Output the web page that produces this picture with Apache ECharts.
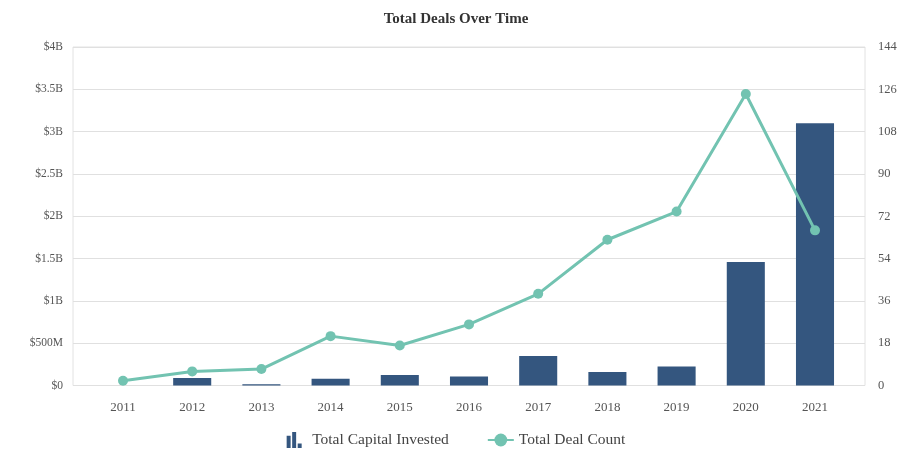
<!DOCTYPE html>
<html>
<head>
<meta charset="utf-8">
<script src="https://cdn.jsdelivr.net/npm/echarts@6/dist/echarts.min.js"></script>
<style>
  html, body { margin: 0; padding: 0; background: #fff; }
  #chart { width: 912px; height: 458px; }
</style>
</head>
<body>
<div id="chart"></div>
<script>
// Years on the category axis
const years = ['2011', '2012', '2013', '2014', '2015', '2016', '2017', '2018', '2019', '2020', '2021'];
// Total capital invested per year, in dollars
const capitalInvested = [0, 90e6, 15e6, 80e6, 125e6, 105e6, 350e6, 160e6, 225e6, 1.46e9, 3.1e9];
// Number of deals per year
const dealCount = [2, 6, 7, 21, 17, 26, 39, 62, 74, 124, 66];
// Left-axis tick labels ($0 … $4B, every $500M)
const capitalTicks = ['$0', '$500M', '$1B', '$1.5B', '$2B', '$2.5B', '$3B', '$3.5B', '$4B'];

const capitalMax = 4e9, capitalStep = 5e8;
const countMax = 144, countStep = 18;

const serif = 'Liberation Serif, Times New Roman, serif';
const labelColor = '#555';
const barColor = '#34567f';
const lineColor = '#72c3b1';

const chart = echarts.init(document.getElementById('chart'), null, { renderer: 'canvas' });

// Outer frame carries the gridlines and both value axes; the inner grid holds the marks
const frame = { left: 73, right: 47, top: 47, bottom: 72.5 };
const plot = { left: 88.4, right: 62.4, top: 47, bottom: 72.5 };

chart.setOption({
  animation: false,
  backgroundColor: '#fff',
  title: {
    text: 'Total Deals Over Time',
    left: 'center',
    top: 7,
    textStyle: { fontFamily: serif, fontSize: 15, fontWeight: 'bold', color: '#333' }
  },
  legend: {
    bottom: 5,
    left: 'center',
    itemGap: 38,
    itemWidth: 26,
    itemHeight: 16,
    textStyle: { fontFamily: serif, fontSize: 15.5, color: '#444' },
    data: [
      {
        name: 'Total Capital Invested',
        icon: 'path://M0,5h3.6v11H0z M5,1.5h3.6v14.5H5z M10,12h3.6v4H10z',
        itemStyle: { color: barColor }
      },
      { name: 'Total Deal Count' }
    ]
  },
  grid: [
    Object.assign({ show: true, borderColor: '#e2e2e2', borderWidth: 1, backgroundColor: 'transparent' }, frame),
    plot
  ],
  xAxis: [
    { gridIndex: 0, type: 'value', min: 0, max: 1, show: false },
    {
      gridIndex: 1,
      type: 'category',
      data: years,
      boundaryGap: true,
      axisLine: { show: false },
      axisTick: { show: false },
      axisLabel: { fontFamily: serif, fontSize: 13, color: labelColor, margin: 16 }
    }
  ],
  yAxis: [
    {
      gridIndex: 0,
      type: 'value',
      position: 'left',
      min: 0, max: capitalMax, interval: capitalStep,
      axisLine: { show: false },
      axisTick: { show: false },
      splitLine: { lineStyle: { color: '#e0e0e0', width: 1 } },
      axisLabel: {
        fontFamily: serif, fontSize: 11.5, color: labelColor, margin: 10,
        formatter: (v) => capitalTicks[Math.round(v / capitalStep)]
      }
    },
    {
      gridIndex: 0,
      type: 'value',
      position: 'right',
      min: 0, max: countMax, interval: countStep,
      axisLine: { show: false },
      axisTick: { show: false },
      splitLine: { show: false },
      axisLabel: { fontFamily: serif, fontSize: 12.5, color: labelColor, margin: 13 }
    },
    { gridIndex: 1, type: 'value', min: 0, max: capitalMax, show: false, splitLine: { show: false } },
    { gridIndex: 1, type: 'value', min: 0, max: countMax, show: false, splitLine: { show: false } }
  ],
  series: [
    {
      name: 'Total Capital Invested',
      type: 'bar',
      xAxisIndex: 1,
      yAxisIndex: 2,
      data: capitalInvested,
      barWidth: '55%',
      itemStyle: { color: barColor },
      z: 2
    },
    {
      name: 'Total Deal Count',
      type: 'line',
      xAxisIndex: 1,
      yAxisIndex: 3,
      data: dealCount,
      symbol: 'circle',
      symbolSize: 10,
      lineStyle: { color: lineColor, width: 3 },
      itemStyle: { color: lineColor },
      z: 3
    }
  ]
});
</script>
</body>
</html>
